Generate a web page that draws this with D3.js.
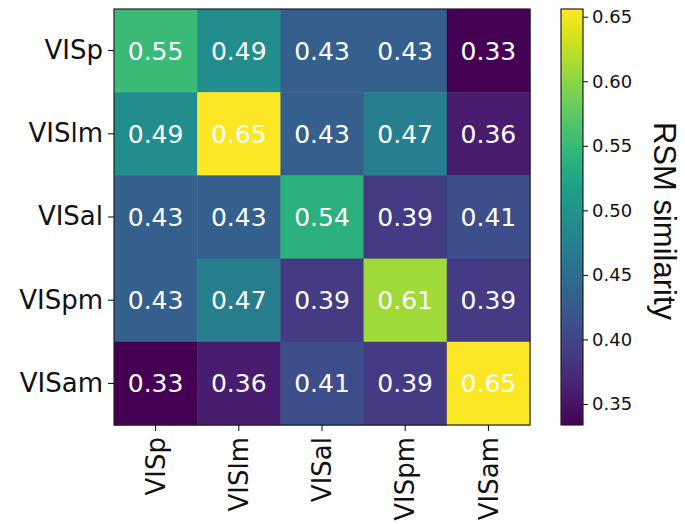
<!DOCTYPE html>
<html>
<head>
<meta charset="utf-8">
<script src="https://cdn.jsdelivr.net/npm/d3@7"></script>
<style>
  body { margin: 0; background: #fff; }
  svg, svg text { font-family: "DejaVu Sans", sans-serif; }
</style>
</head>
<body>
<svg id="chart" width="685" height="524"></svg>
<script>
const areas = ["VISp", "VISlm", "VISal", "VISpm", "VISam"]
// rows = areas, columns = areas
const similarity = [
    [0.552, 0.490, 0.430, 0.430, 0.334],
    [0.490, 0.654, 0.430, 0.470, 0.360],
    [0.430, 0.430, 0.540, 0.390, 0.410],
    [0.430, 0.470, 0.390, 0.610, 0.390],
    [0.334, 0.360, 0.410, 0.390, 0.654]
]
const cbarTicks = [0.35, 0.40, 0.45, 0.50, 0.55, 0.60, 0.65]
const cbarLabel = "RSM similarity"

const svg = d3.select("#chart")
const plot = { left: 114, top: 9, size: 416 }
const cbar = { left: 561, width: 22 }

const x = d3.scaleBand().domain(areas).range([plot.left, plot.left + plot.size])
const y = d3.scaleBand().domain(areas).range([plot.top, plot.top + plot.size])

const vmin = 0.3337, vmax = 0.656
const colour = d3.scaleSequential(d3.interpolateViridis).domain([vmin, vmax])

const cells = []
similarity.forEach((row, i) => row.forEach((v, j) => cells.push({ r: areas[i], c: areas[j], v })))

// heatmap cells
svg.append("g")
    .selectAll("rect")
    .data(cells)
    .join("rect")
    .attr("x", d => x(d.c))
    .attr("y", d => y(d.r))
    .attr("width", x.bandwidth() + 0.5)
    .attr("height", y.bandwidth() + 0.5)
    .attr("fill", d => colour(d.v))

svg.append("g")
    .selectAll("text")
    .data(cells)
    .join("text")
    .attr("x", d => x(d.c) + x.bandwidth() / 2)
    .attr("y", d => y(d.r) + y.bandwidth() / 2)
    .attr("dy", "0.36em")
    .attr("text-anchor", "middle")
    .attr("fill", "white")
    .style("font-size", "25px")
    .text(d => d.v.toFixed(2))

svg.append("rect")
    .attr("x", plot.left).attr("y", plot.top)
    .attr("width", plot.size).attr("height", plot.size)
    .attr("fill", "none").attr("stroke", "#222").attr("stroke-width", 1.2)

// axes
const yAxis = svg.append("g")
    .attr("transform", `translate(${plot.left},0)`)
    .call(d3.axisLeft(y).tickSize(6).tickPadding(5))
    .attr("font-family", null)
yAxis.select(".domain").remove()
yAxis.selectAll("text").style("font-size", "26px").attr("fill", "#111")

const xAxis = svg.append("g")
    .attr("transform", `translate(0,${plot.top + plot.size})`)
    .call(d3.axisBottom(x).tickSize(6).tickPadding(5))
    .attr("font-family", null)
xAxis.select(".domain").remove()
xAxis.selectAll("text")
    .style("font-size", "26px")
    .attr("fill", "#111")
    .attr("transform", "rotate(-90)")
    .attr("text-anchor", "end")
    .attr("x", -12)
    .attr("y", 0)
    .attr("dy", "0.35em")

// colour bar
const cy = d3.scaleLinear().domain([vmin, vmax]).range([plot.top + plot.size, plot.top])
const defs = svg.append("defs")
const grad = defs.append("linearGradient")
    .attr("id", "cbar-grad")
    .attr("x1", 0).attr("y1", 1).attr("x2", 0).attr("y2", 0)
grad.selectAll("stop")
    .data(d3.range(0, 1.0001, 0.05))
    .join("stop")
    .attr("offset", d => d)
    .attr("stop-color", d => d3.interpolateViridis(d))

svg.append("rect")
    .attr("x", cbar.left).attr("y", plot.top)
    .attr("width", cbar.width).attr("height", plot.size)
    .attr("fill", "url(#cbar-grad)")
    .attr("stroke", "#222").attr("stroke-width", 1.2)

const cAxis = svg.append("g")
    .attr("transform", `translate(${cbar.left + cbar.width},0)`)
    .call(d3.axisRight(cy).tickValues(cbarTicks).tickFormat(d3.format(".2f")).tickSize(5).tickPadding(4))
    .attr("font-family", null)
cAxis.select(".domain").remove()
cAxis.selectAll("text").style("font-size", "18px").attr("fill", "#111")

svg.append("text")
    .attr("transform", `translate(654,${plot.top + plot.size / 2 + 4}) rotate(90)`)
    .attr("text-anchor", "middle")
    .style("font-size", "31px")
    .style("font-family", "'Liberation Sans', Arial, sans-serif")
    .attr("fill", "#111")
    .text(cbarLabel)
</script>
</body>
</html>
